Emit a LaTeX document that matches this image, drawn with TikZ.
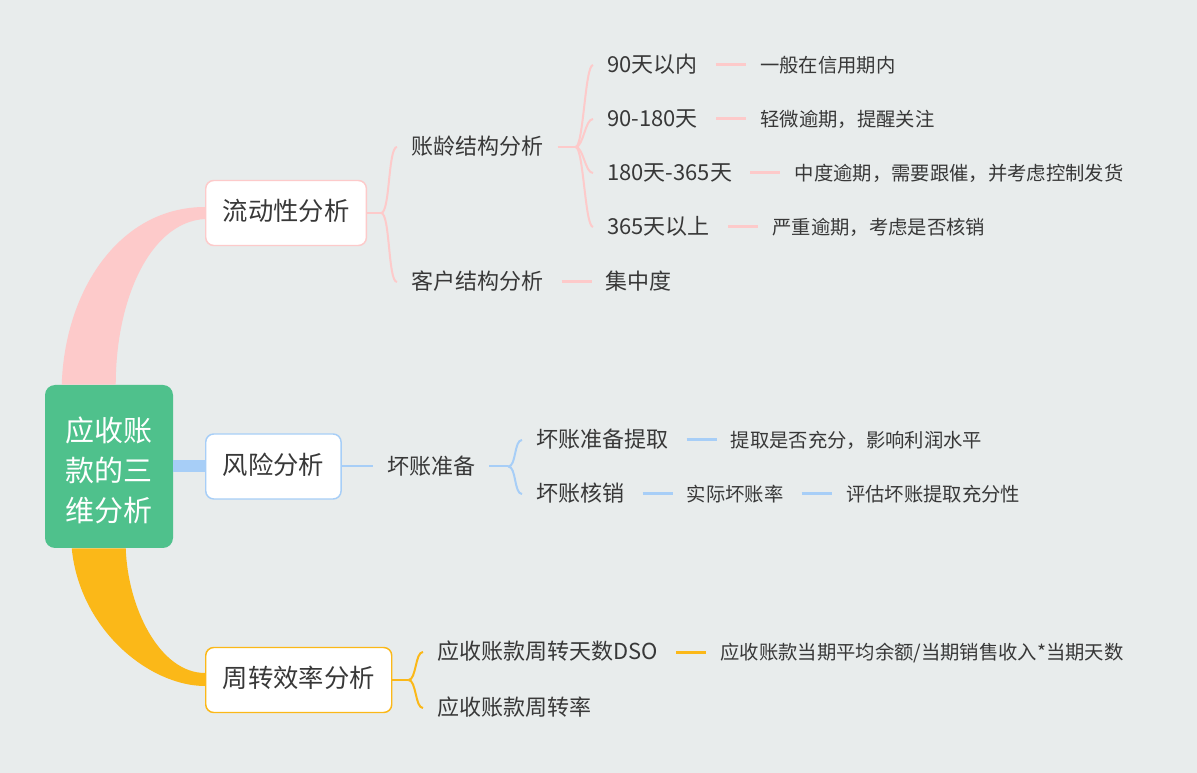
\documentclass[tikz,border=0pt]{standalone}
\usepackage{fontspec}
\setmainfont{Noto Sans CJK SC}
\usepackage{xcolor}
\usetikzlibrary{positioning,calc}

\definecolor{bgc}{HTML}{E8ECEC}
\definecolor{rootc}{HTML}{4FC18C}
\definecolor{pinkc}{HTML}{FDCACA}
\definecolor{bluec}{HTML}{A7CEF7}
\definecolor{orangec}{HTML}{FBB818}
\definecolor{txtc}{HTML}{383838}

\begin{document}
\begin{tikzpicture}[
x=0.75pt, y=-0.75pt,
every node/.style={text=txtc, inner ysep=2pt, text height=1.15em, text depth=0em},
topic/.style={draw, fill=white, line width=1.1pt, rounded corners=6pt, minimum height=48.75pt, inner xsep=12.75pt, anchor=west, font=\fontsize{19}{23}\selectfont},
sub/.style={inner xsep=10.5pt, font=\fontsize{16.5}{20}\selectfont},
leaf/.style={inner xsep=10.5pt, font=\fontsize{14.5}{18}\selectfont},
link/.style={line width=1.5pt},
tick/.style={line width=2.25pt, shorten <=3pt}
]

\fill[bgc] (0,0) rectangle (1197,773);
\useasboundingbox (0,0) rectangle (1197,773);

\node (root) [fill=rootc, rounded corners=7.5pt, minimum width=96pt, minimum height=122.25pt, text=white, align=center, text height=83pt, text depth=0.5pt, font=\fontsize{21.75}{30}\selectfont] at (109,466.5) {应收账\\款的三\\维分析};

\node (flow) [topic, draw=pinkc] at (205,213) {流动性分析};
\node (risk) [topic, draw=bluec] at (205,466.5) {风险分析};
\node (turn) [topic, draw=orangec] at (205,680) {周转效率分析};

\node (age) [sub, anchor=west] at (397,147) {账龄结构分析};
\node (cust) [sub, anchor=west] at (397,282) {客户结构分析};
\node (conc) [sub, right=25.5pt of cust] {集中度};

\node (d1) [sub, anchor=west] at (593,65) {90天以内};
\node (d2) [sub, anchor=west] at (593,119) {90-180天};
\node (d3) [sub, anchor=west] at (593,173) {180天-365天};
\node (d4) [sub, anchor=west] at (593,227) {365天以上};
\node (n1) [leaf, right=25.5pt of d1] {一般在信用期内};
\node (n2) [leaf, right=25.5pt of d2] {轻微逾期，提醒关注};
\node (n3) [leaf, right=25.5pt of d3] {中度逾期，需要跟催，并考虑控制发货};
\node (n4) [leaf, right=25.5pt of d4] {严重逾期，考虑是否核销};

\node (bad) [sub, right=23.25pt of risk] {坏账准备};
\node (prov) [sub, anchor=west] at (522,440) {坏账准备提取};
\node (wo) [sub, anchor=west] at (522,494) {坏账核销};
\node (provn) [leaf, right=25.5pt of prov] {提取是否充分，影响利润水平};
\node (rate) [leaf, right=25.5pt of wo] {实际坏账率};
\node (raten) [leaf, right=25.5pt of rate] {评估坏账提取充分性};

\node (dso) [sub, anchor=west] at (423,652) {应收账款周转天数DSO};
\node (ratio) [sub, anchor=west] at (423,708) {应收账款周转率};
\node (dson) [leaf, right=25.5pt of dso] {应收账款当期平均余额/当期销售收入*当期天数};

\fill[pinkc] ($(root.north west)+(17,0)$) .. controls +(3,-95) and +(-85,0) .. ($(flow.west)+(0,-6)$) -- ($(flow.west)+(0,6)$) .. controls +(-55,3) and +(0,-85) .. ($(root.north west)+(71,0)$) -- cycle;
\fill[bluec] ($(root.east)+(0,-6)$) rectangle ($(risk.west)+(0,6)$);
\fill[orangec] ($(root.south west)+(27,0)$) .. controls +(8,82) and +(-55,0) .. ($(turn.west)+(0,6)$) -- ($(turn.west)+(0,-7)$) .. controls +(-45,0) and +(2,60) .. ($(root.south west)+(81,0)$) -- cycle;

\draw[link, pinkc] (flow.east) -- ++(14,0) coordinate (jflow);
\foreach \c in {age,cust} \draw[link, pinkc] (jflow) .. controls +(9,0) and +(-9,0) .. (\c.west);
\draw[link, pinkc] (age.east) -- ++(18,0) coordinate (jage);
\foreach \c in {d1,d2,d3,d4} \draw[link, pinkc] (jage) .. controls +(8,0) and +(-8,0) .. (\c.west);
\foreach \a/\b in {d1/n1,d2/n2,d3/n3,d4/n4,cust/conc} \draw[tick, pinkc] (\a.east) -- (\b.west);

\draw[link, bluec] (risk.east) -- (bad.west);
\draw[link, bluec] (bad.east) -- ++(19,0) coordinate (jbad);
\foreach \c in {prov,wo} \draw[link, bluec] (jbad) .. controls +(8,0) and +(-8,0) .. (\c.west);
\foreach \a/\b in {prov/provn,wo/rate,rate/raten} \draw[tick, bluec] (\a.east) -- (\b.west);

\draw[link, orangec] (turn.east) -- ++(16,0) coordinate (jturn);
\foreach \c in {dso,ratio} \draw[link, orangec] (jturn) .. controls +(8,0) and +(-8,0) .. (\c.west);
\draw[tick, orangec] (dso.east) -- (dson.west);

\end{tikzpicture}
\end{document}
